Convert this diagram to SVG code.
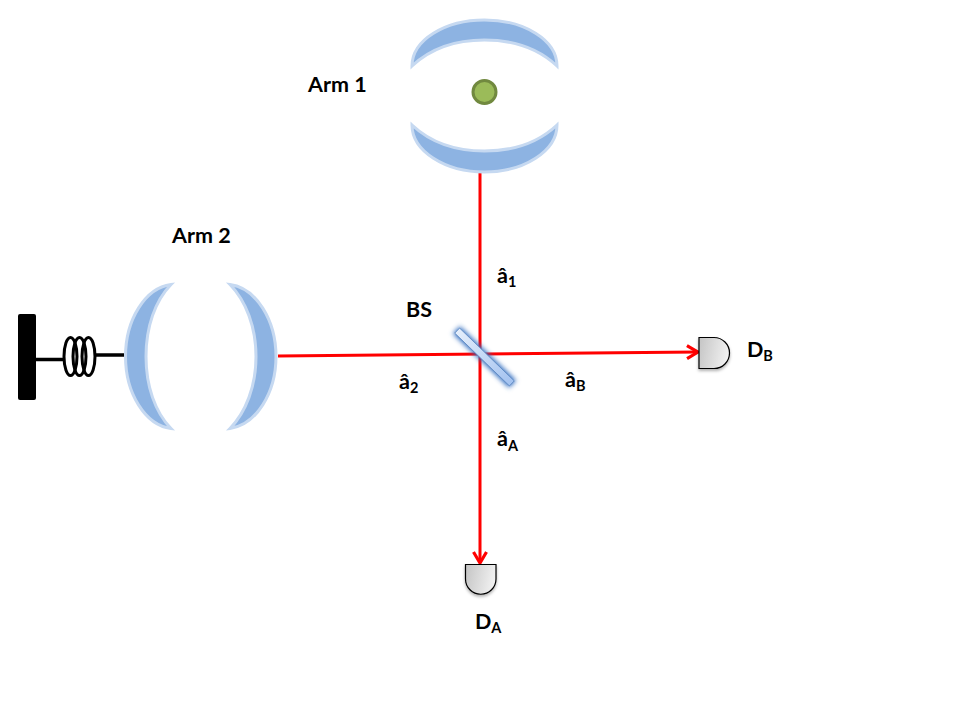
<svg xmlns="http://www.w3.org/2000/svg" width="960" height="720" viewBox="0 0 960 720">
<style>
.lens{fill:#8db3e2;stroke:#c6d9f1;stroke-width:3;stroke-linejoin:miter}
.mech{fill:none;stroke:#000;stroke-width:3.500}
.beam{fill:none;stroke:#f00;stroke-width:3}
.det{fill:url(#detGrad);stroke:#000;stroke-width:1.200;filter:url(#shadow)}
text{font-family:"Lato","Carlito","Liberation Sans",sans-serif;font-weight:700;font-size:21.500px;fill:#000}
.sub{font-size:14.500px}
</style>
<defs>
<linearGradient id="detGrad" x1="0" y1="0" x2="1" y2="0.2"><stop offset="0" stop-color="#c4c4c4"/><stop offset="1" stop-color="#f0f0f0"/></linearGradient>
<linearGradient id="bsGrad" x1="0" y1="0" x2="1" y2="0"><stop offset="0" stop-color="#e4eefb"/><stop offset="1" stop-color="#a3c2f0"/></linearGradient>
<filter id="shadow" x="-20%" y="-20%" width="140%" height="150%"><feDropShadow dx="0" dy="2" stdDeviation="1.500" flood-color="#000" flood-opacity="0.3"/></filter>
<filter id="glow" x="-30%" y="-300%" width="160%" height="700%"><feGaussianBlur stdDeviation="2.500"/></filter>
<marker id="arrow" markerUnits="userSpaceOnUse" markerWidth="16" markerHeight="16" refX="13" refY="8" orient="auto"><path d="M2 1.500L13 8L2 14.500" fill="none" stroke="#f00" stroke-width="3.200"/></marker>
</defs>

<g id="connectors">
<path class="beam" d="M480 173V563" marker-end="url(#arrow)"/>
<path class="beam" d="M278 356L698 352" marker-end="url(#arrow)"/>
<path class="mech" d="M36 359.500H64M96 355H124"/>
</g>

<g id="arm1-mirror-top"><path class="lens" d="M412 66C412 40 445 20 484.500 20C524 20 557 40 557 66C540 50 515 40 484.500 40C454 40 429 50 412 66Z"/></g>
<g id="arm1-mirror-bottom"><path class="lens" d="M412 125C412 151 445 172 484.500 172C524 172 557 151 557 125C540 141 515 151 484.500 151C454 151 429 141 412 125Z"/></g>
<g id="atom"><circle cx="484.500" cy="92" r="11.500" fill="#9bbb59" stroke="#71893f" stroke-width="3"/></g>

<g id="arm2-mirror-left"><path class="lens" d="M171 284.500C145 288 125.500 320 125.500 356.500C125.500 393 145 425 171 428.500C155 412 146 386 146 356.500C146 327 155 301 171 284.500Z"/></g>
<g id="arm2-mirror-right"><path class="lens" d="M230 284.500C256 288 276 320 276 356.500C276 393 256 425 230 428.500C246 412 256 386 256 356.500C256 327 246 301 230 284.500Z"/></g>

<g id="wall"><rect x="18" y="314" width="18" height="86" rx="2" fill="#000"/></g>
<g id="spring" fill="none" stroke="#000" stroke-width="3">
<ellipse cx="70.500" cy="356.500" rx="6.500" ry="19"/>
<ellipse cx="79.500" cy="356.500" rx="6.500" ry="19"/>
<ellipse cx="88.500" cy="356.500" rx="6.500" ry="19"/>
</g>

<g id="beam-splitter" transform="translate(484.500 357) rotate(44)">
<rect x="-39" y="-5" width="78" height="10" fill="#2f6cc0" filter="url(#glow)"/>
<rect x="-38" y="-3.500" width="76" height="7" fill="url(#bsGrad)" stroke="#5b86c0" stroke-width="0.800"/>
</g>

<g id="detector-b"><path class="det" d="M699 337.500H714A15.500 15.500 0 0 1 714 368.500H699Z"/></g>
<g id="detector-a"><path class="det" d="M465.500 564.500H496V579A15.250 15.250 0 0 1 465.500 579Z"/></g>

<g id="labels">
<text x="308" y="92">Arm 1</text>
<text x="172" y="243">Arm 2</text>
<text x="406" y="317">BS</text>
<text x="497" y="283">â<tspan class="sub" dy="4">1</tspan></text>
<text x="399" y="389">â<tspan class="sub" dy="4">2</tspan></text>
<text x="565" y="387">â<tspan class="sub" dy="4">B</tspan></text>
<text x="497" y="446">â<tspan class="sub" dy="5">A</tspan></text>
<text x="747" y="357">D<tspan class="sub" dy="4">B</tspan></text>
<text x="475" y="629">D<tspan class="sub" dy="4">A</tspan></text>
</g>
</svg>
